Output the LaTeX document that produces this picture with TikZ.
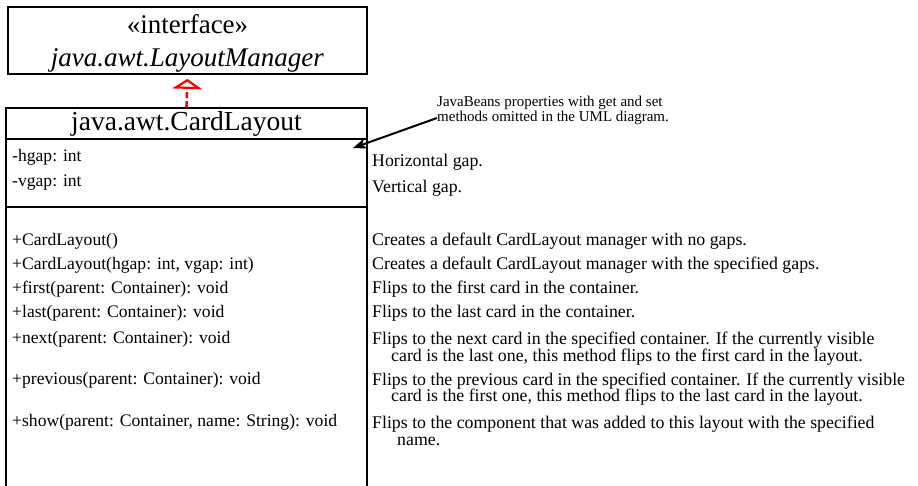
\documentclass[tikz,border=0pt]{standalone}
\usepackage{fontspec}
\setmainfont{Liberation Serif}
\usetikzlibrary{arrows.meta,positioning}

\begin{document}
\begin{tikzpicture}[
    x=1pt, y=-1pt,
    umlbox/.style={rectangle, draw, line width=1.8pt, inner sep=0pt},
    member/.style={anchor=west, inner sep=0pt, font=\fontsize{17.6}{17}\selectfont},
    remark/.style={anchor=west, inner sep=0pt, align=left, font=\fontsize{17.8}{16.5}\selectfont},
    realize/.style={-{Triangle[open, length=10pt, width=30pt, line width=2.2pt]}, red, dash pattern=on 6pt off 3pt, line width=2.6pt},
    pointer/.style={-{Stealth[length=14pt, width=11pt]}, line width=2pt}
]
\useasboundingbox (0,0) rectangle (918,486);

% Interface
\node[umlbox, minimum width=359pt, minimum height=67pt, align=center,
      font=\fontsize{27}{33}\selectfont] (iface) at (187.5,40.5)
      {\rule{0pt}{25pt}«interface»\\\textit{java.awt.LayoutManager}};

% Class compartments
\node[umlbox, minimum width=361pt, minimum height=31pt,
      font=\fontsize{27.5}{28}\selectfont] (cname) at (186.5,123.5) {java.awt.CardLayout};
\node[umlbox, minimum width=361pt, minimum height=68pt] (attrs) at (186.5,173) {};
\node[umlbox, minimum width=361pt, minimum height=290pt] (ops) at (186.5,352) {};

% Members
\node[member] (hgap) at (12,157) {-hgap: int};
\node[member] (vgap) at (12,183) {-vgap: int};
\node[member] (ctorA) at (12,241) {+CardLayout()};
\node[member] (ctorB) at (12,265) {+CardLayout(hgap: int, vgap: int)};
\node[member] (first) at (12,289) {+first(parent: Container): void};
\node[member] (last) at (12,313) {+last(parent: Container): void};
\node[member] (next) at (12,339) {+next(parent: Container): void};
\node[member] (previous) at (12,380) {+previous(parent: Container): void};
\node[member] (show) at (12,422) {+show(parent: Container, name: String): void};

% Descriptions
\node[remark] (hgapNote) at (372,162) {Horizontal gap.};
\node[remark] (vgapNote) at (372,188) {Vertical gap.};
\node[remark] (ctorANote) at (372,241) {Creates a default CardLayout manager with no gaps.};
\node[remark] (ctorBNote) at (372,265) {Creates a default CardLayout manager with the specified gaps.};
\node[remark] (firstNote) at (372,289) {Flips to the first card in the container.};
\node[remark] (lastNote) at (372,313) {Flips to the last card in the container.};
\node[remark] (nextNote) at (372,348.5) {Flips to the next card in the specified container. If the currently visible\\\hspace*{19pt}card is the last one, this method flips to the first card in the layout.};
\node[remark] (previousNote) at (372,389) {Flips to the previous card in the specified container. If the currently visible\\\hspace*{19pt}card is the first one, this method flips to the last card in the layout.};
\node[remark] (showNote) at (372,431) {Flips to the component that was added to this layout with the specified\\\hspace*{25pt}name.};

% JavaBeans remark
\node[anchor=west, inner sep=0pt, align=left, font=\fontsize{15}{15}\selectfont] (beans) at (437,110)
      {JavaBeans properties with get and set\\methods omitted in the UML diagram.};
\coordinate (beansTip) at (353,148);

% Connectors
\draw[realize, shorten >=4pt] (cname.north) -- (iface.south);
\draw[pointer] (beans.west |- 0,118) -- (beansTip);

\end{tikzpicture}
\end{document}
